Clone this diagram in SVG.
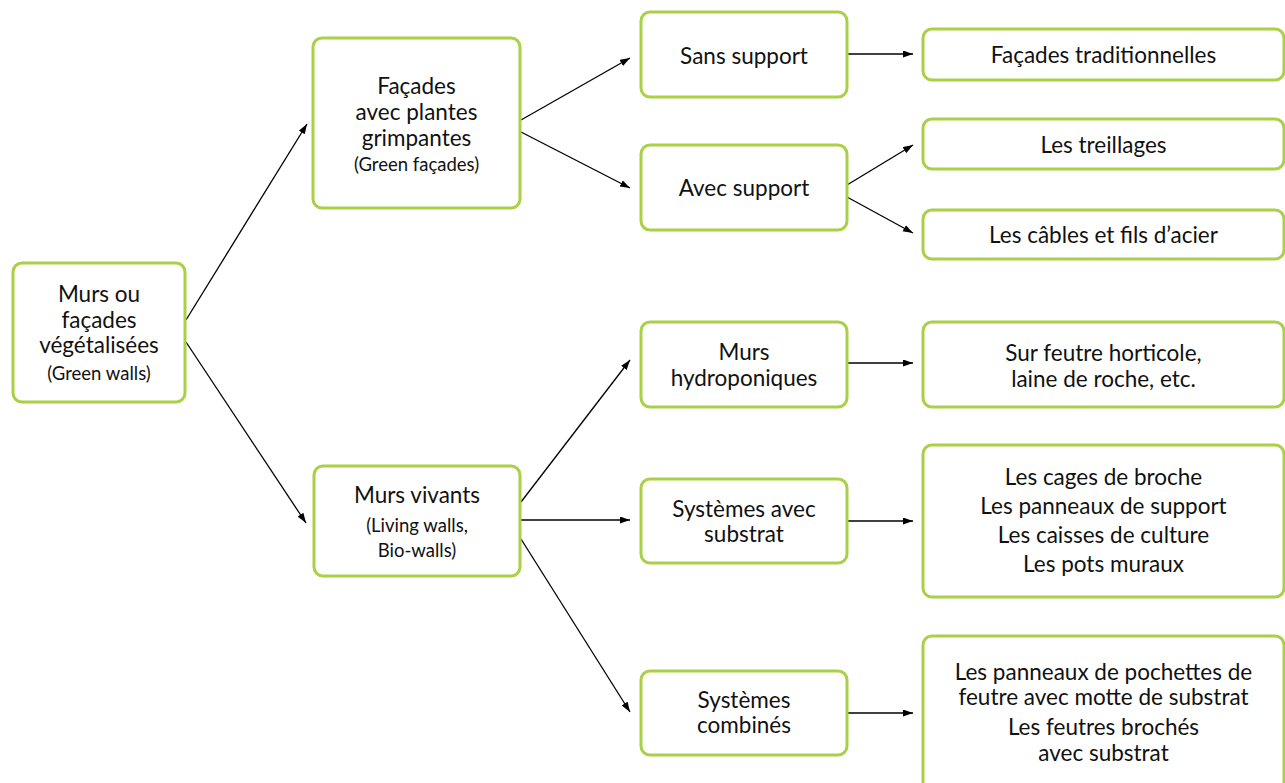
<svg xmlns="http://www.w3.org/2000/svg" width="1285" height="783" viewBox="0 0 1285 783">
<style>
.box{fill:#fff;stroke:#a9d046;stroke-width:3}
.t{font-family:Lato,"Open Sans","Liberation Sans",sans-serif;font-size:22.5px;fill:#111;text-anchor:middle}
.s{font-size:18.5px}
.c{stroke:#000;stroke-width:1.3;fill:none;marker-end:url(#ah)}
</style>
<defs>
<marker id="ah" markerUnits="userSpaceOnUse" markerWidth="11" markerHeight="8" refX="10" refY="3.5" orient="auto">
<path d="M0,0 L10,3.5 L0,7 z" fill="#000"/>
</marker>
</defs>
<rect width="1285" height="783" fill="#fff"/>
<g id="connectors">
<line class="c" x1="186" y1="320" x2="307" y2="124"/>
<line class="c" x1="186" y1="342" x2="306" y2="523"/>
<line class="c" x1="521" y1="120" x2="630" y2="58"/>
<line class="c" x1="521" y1="132" x2="630" y2="188"/>
<line class="c" x1="847" y1="54" x2="913" y2="54"/>
<line class="c" x1="847" y1="185" x2="913" y2="145"/>
<line class="c" x1="847" y1="197" x2="913" y2="233"/>
<line class="c" x1="521" y1="502" x2="630" y2="360"/>
<line class="c" x1="521" y1="520" x2="630" y2="520"/>
<line class="c" x1="521" y1="539" x2="630" y2="712"/>
<line class="c" x1="847" y1="363" x2="913" y2="363"/>
<line class="c" x1="847" y1="521" x2="913" y2="521"/>
<line class="c" x1="847" y1="713" x2="913" y2="713"/>
</g>
<g id="root">
<rect class="box" x="13" y="263" width="172" height="139" rx="9"/>
<text class="t" x="99" y="302">Murs ou</text>
<text class="t" x="99" y="327.5">façades</text>
<text class="t" x="99" y="353">végétalisées</text>
<text class="t s" x="99" y="380">(Green walls)</text>
</g>
<g id="facades">
<rect class="box" x="313" y="38" width="207" height="170" rx="9"/>
<text class="t" x="416.5" y="94">Façades</text>
<text class="t" x="416.5" y="120">avec plantes</text>
<text class="t" x="416.5" y="145.5">grimpantes</text>
<text class="t s" x="416.5" y="171">(Green façades)</text>
</g>
<g id="sans-support">
<rect class="box" x="641" y="12" width="206" height="85" rx="9"/>
<text class="t" x="744" y="64">Sans support</text>
</g>
<g id="avec-support">
<rect class="box" x="641" y="145" width="206" height="85" rx="9"/>
<text class="t" x="744" y="196">Avec support</text>
</g>
<g id="facades-traditionnelles">
<rect class="box" x="923" y="29" width="361" height="51" rx="9"/>
<text class="t" x="1103.5" y="63">Façades traditionnelles</text>
</g>
<g id="treillages">
<rect class="box" x="923" y="119" width="361" height="50" rx="9"/>
<text class="t" x="1103.5" y="153">Les treillages</text>
</g>
<g id="cables">
<rect class="box" x="923" y="210" width="361" height="49" rx="9"/>
<text class="t" x="1103.5" y="243">Les câbles et fils d’acier</text>
</g>
<g id="murs-vivants">
<rect class="box" x="314" y="466" width="206" height="110" rx="9"/>
<text class="t" x="417" y="503">Murs vivants</text>
<text class="t s" x="417" y="532">(Living walls,</text>
<text class="t s" x="417" y="557">Bio-walls)</text>
</g>
<g id="hydroponiques">
<rect class="box" x="641" y="322" width="206" height="85" rx="9"/>
<text class="t" x="744" y="360">Murs</text>
<text class="t" x="744" y="385.5">hydroponiques</text>
</g>
<g id="sur-feutre">
<rect class="box" x="923" y="322" width="361" height="85" rx="9"/>
<text class="t" x="1103.5" y="361">Sur feutre horticole,</text>
<text class="t" x="1103.5" y="387">laine de roche, etc.</text>
</g>
<g id="systemes-substrat">
<rect class="box" x="641" y="479" width="206" height="84" rx="9"/>
<text class="t" x="744" y="516.5">Systèmes avec</text>
<text class="t" x="744" y="542">substrat</text>
</g>
<g id="cages">
<rect class="box" x="923" y="445" width="361" height="152" rx="9"/>
<text class="t" x="1103.5" y="485">Les cages de broche</text>
<text class="t" x="1103.5" y="514">Les panneaux de support</text>
<text class="t" x="1103.5" y="543">Les caisses de culture</text>
<text class="t" x="1103.5" y="572">Les pots muraux</text>
</g>
<g id="systemes-combines">
<rect class="box" x="641" y="671" width="206" height="84" rx="9"/>
<text class="t" x="744" y="707.5">Systèmes</text>
<text class="t" x="744" y="733">combinés</text>
</g>
<g id="pochettes">
<rect class="box" x="923" y="636" width="361" height="170" rx="9"/>
<text class="t" x="1103.5" y="679.5">Les panneaux de pochettes de</text>
<text class="t" x="1103.5" y="705">feutre avec motte de substrat</text>
<text class="t" x="1103.5" y="735">Les feutres brochés</text>
<text class="t" x="1103.5" y="760.5">avec substrat</text>
</g>
</svg>
